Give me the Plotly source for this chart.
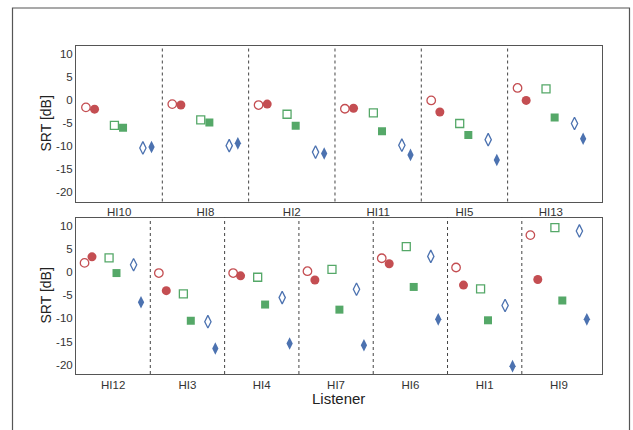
import plotly.graph_objects as go

# ---------------- data ----------------
top_listeners = ["HI10", "HI8", "HI2", "HI11", "HI5", "HI13"]
bottom_listeners = ["HI12", "HI3", "HI4", "HI7", "HI6", "HI1", "HI9"]

# SRT values [dB] per condition (open/filled marker pairs)
top_circle_open = [-1.6, -0.9, -1.1, -1.9, -0.1, 2.6]
top_circle_fill = [-2.0, -1.1, -0.9, -1.8, -2.6, -0.1]
top_square_open = [-5.5, -4.3, -3.1, -2.8, -5.1, 2.4]
top_square_fill = [-6.0, -4.9, -5.6, -6.8, -7.6, -3.8]
top_diamond_open = [-10.4, -9.9, -11.3, -9.8, -8.6, -5.1]
top_diamond_fill = [-10.2, -9.4, -11.6, -11.9, -13.0, -8.4]

bot_circle_open = [2.0, -0.2, -0.2, 0.2, 3.0, 1.0, 8.0]
bot_circle_fill = [3.3, -4.0, -0.8, -1.7, 1.8, -2.8, -1.6]
bot_square_open = [3.1, -4.7, -1.1, 0.6, 5.5, -3.6, 9.6]
bot_square_fill = [-0.2, -10.5, -7.0, -8.1, -3.2, -10.4, -6.1]
bot_diamond_open = [1.6, -10.7, -5.5, -3.7, 3.4, -7.2, 8.9]
bot_diamond_fill = [-6.5, -16.5, -15.4, -15.8, -10.2, -20.3, -10.2]

y_tick_vals = [-20, -15, -10, -5, 0, 5, 10]
y_tick_text = ["-20", "-15", "-10", "-5", "0", "5", "10"]

# ---------------- style ----------------
RED = "#C44E52"
GREEN = "#55A868"
BLUE = "#4C72B0"
offsets = [-0.385, -0.285, -0.055, 0.045, 0.275, 0.375]
conds = [
    (True, "circle", RED, 8.5),
    (False, "circle", RED, 9),
    (True, "square", GREEN, 8),
    (False, "square", GREEN, 8),
    (True, "diamond-tall", BLUE, 9),
    (False, "diamond-tall", BLUE, 9),
]

fig = go.Figure()


def add_panel(listeners, series, xa, ya):
    for k, (vals, (opened, base, col, size)) in enumerate(zip(series, conds)):
        fig.add_trace(go.Scatter(
            x=[i + offsets[k] for i in range(len(listeners))],
            y=vals,
            mode="markers",
            xaxis=xa, yaxis=ya,
            showlegend=False,
            marker=dict(
                symbol=base,
                size=size,
                color="white" if opened else col,
                line=dict(color=col, width=1.3 if opened else 0),
            ),
        ))
    for i in range(len(listeners) - 1):
        fig.add_shape(type="line", xref=xa, yref=ya + " domain",
                      x0=i + 0.5, x1=i + 0.5, y0=0, y1=1,
                      line=dict(color="#444444", width=1, dash="3px,3px"))


add_panel(top_listeners,
          [top_circle_open, top_circle_fill, top_square_open,
           top_square_fill, top_diamond_open, top_diamond_fill], "x", "y")
add_panel(bottom_listeners,
          [bot_circle_open, bot_circle_fill, bot_square_open,
           bot_square_fill, bot_diamond_open, bot_diamond_fill], "x2", "y2")

W, H = 633, 430
xdom = [76 / W, 601.7 / W]
axis_common = dict(showline=True, mirror=True, linecolor="#555555", linewidth=1,
                   showgrid=False, zeroline=False,
                   tickfont=dict(family="Liberation Sans, Arial", size=11.5, color="#333333"),
                   ticks="", ticklen=0)

fig.update_layout(
    width=W, height=H,
    margin=dict(l=0, r=0, t=0, b=0),
    paper_bgcolor="white", plot_bgcolor="white",
    xaxis=dict(domain=xdom, anchor="y", range=[-0.5, len(top_listeners) - 0.41],
               tickvals=list(range(len(top_listeners))), ticktext=top_listeners,
               **axis_common),
    yaxis=dict(domain=[1 - 201.5 / H, 1 - 45.5 / H], anchor="x", range=[-22, 11.8],
               tickvals=y_tick_vals, ticktext=y_tick_text, **axis_common),
    xaxis2=dict(domain=xdom, anchor="y2", range=[-0.5, len(bottom_listeners) - 0.425],
                tickvals=list(range(len(bottom_listeners))), ticktext=bottom_listeners,
                **axis_common),
    yaxis2=dict(domain=[1 - 374 / H, 1 - 217.5 / H], anchor="x2", range=[-22, 11.8],
                tickvals=y_tick_vals, ticktext=y_tick_text, **axis_common),
)

title_font = dict(family="Liberation Sans, Arial", size=14, color="#222222")
fig.add_annotation(text="SRT [dB]", xref="paper", yref="paper",
                   x=45 / W, y=1 - 123.5 / H, showarrow=False, textangle=-90,
                   font=title_font, xanchor="center", yanchor="middle")
fig.add_annotation(text="SRT [dB]", xref="paper", yref="paper",
                   x=45 / W, y=1 - 295.5 / H, showarrow=False, textangle=-90,
                   font=title_font, xanchor="center", yanchor="middle")
fig.add_annotation(text="Listener", xref="paper", yref="paper",
                   x=338.5 / W, y=1 - 398 / H, showarrow=False,
                   font=dict(family="Liberation Sans, Arial", size=15, color="#222222"),
                   xanchor="center", yanchor="middle")

# outer frame
fig.add_shape(type="rect", xref="paper", yref="paper",
              x0=12.5 / W, x1=629.5 / W, y0=-0.2, y1=1 - 8 / H,
              line=dict(color="#555555", width=1.2), layer="below")

fig.write_html("out.html", config={"displayModeBar": False},
               post_script="document.body.style.margin='0';document.body.style.overflow='hidden';")
